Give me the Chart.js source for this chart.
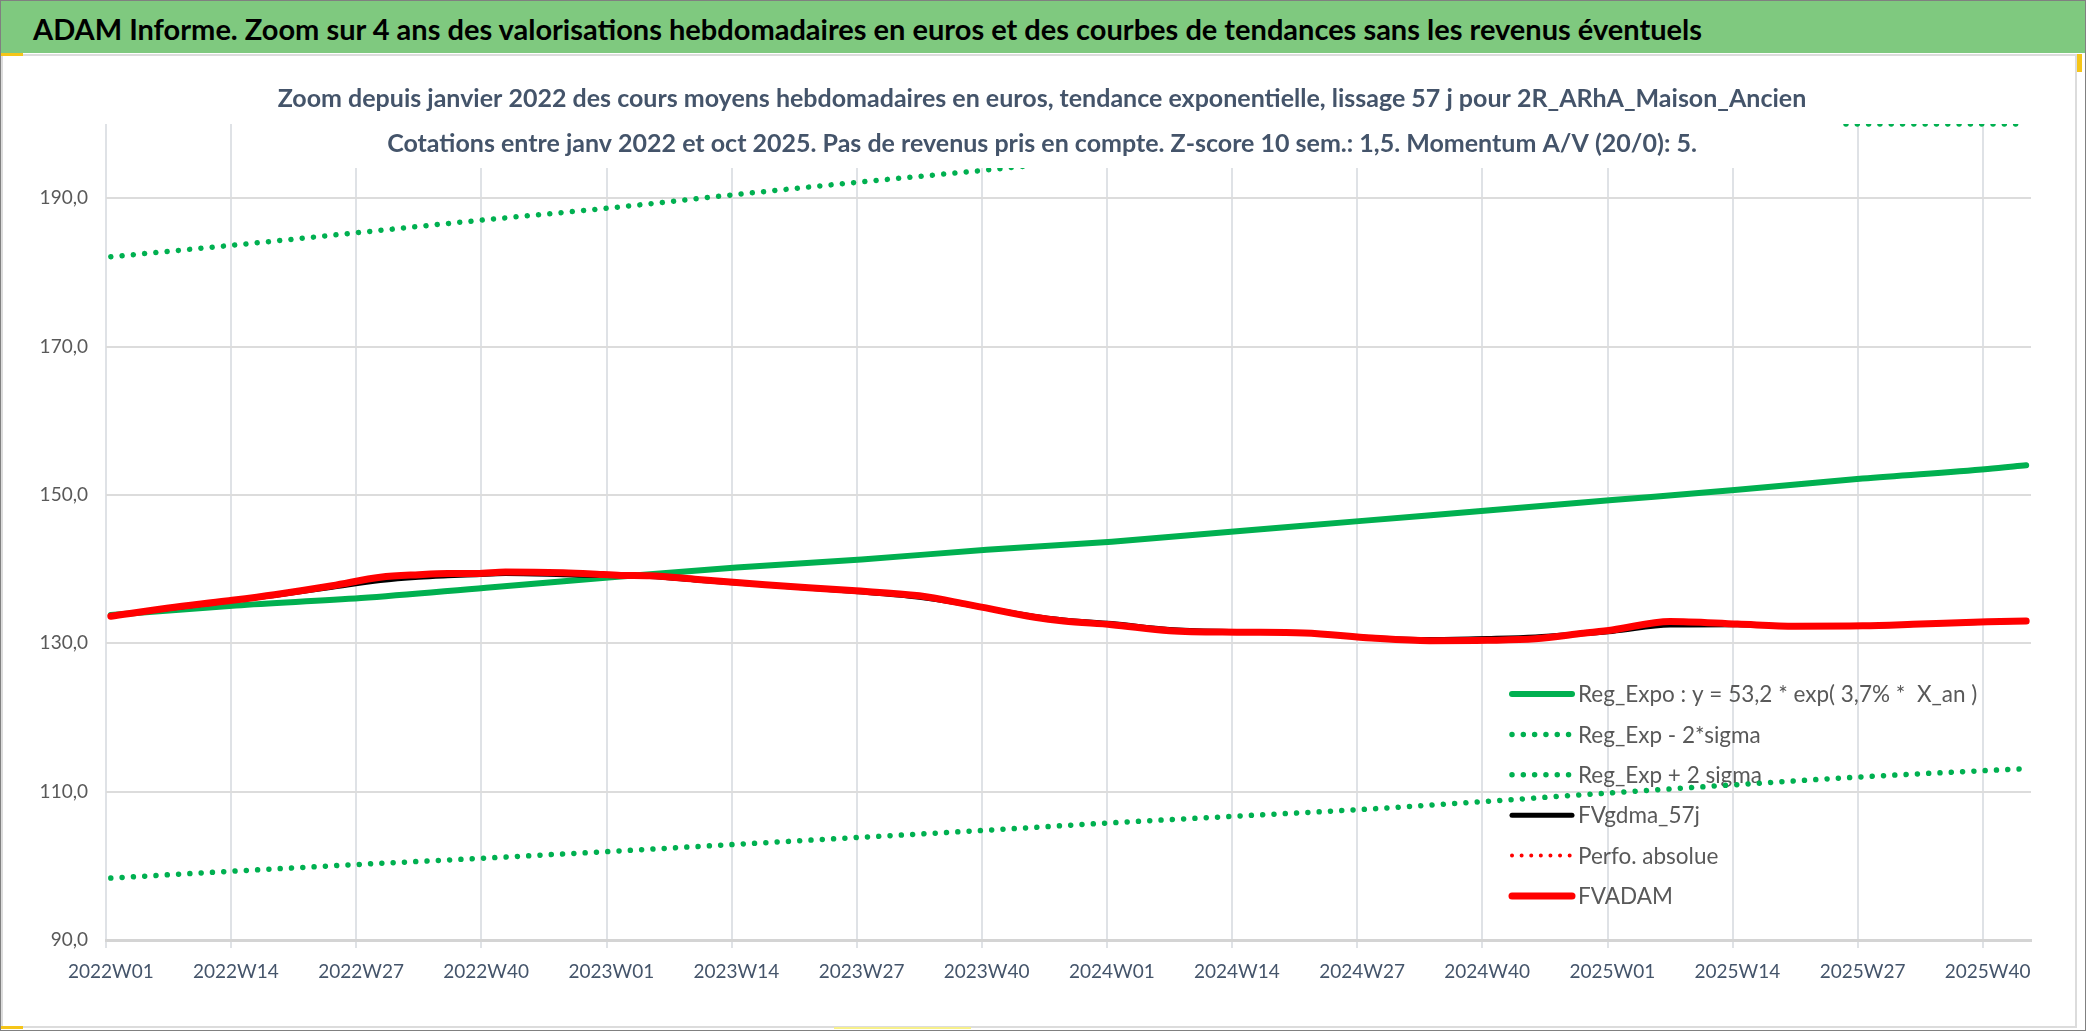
<!DOCTYPE html>
<html>
<head>
<meta charset="utf-8">
<title>ADAM Informe</title>
<script src="https://cdn.jsdelivr.net/npm/chart.js"></script>
<style>
  body { margin: 0; background: #fff; }
  #page { position: relative; width: 2086px; height: 1031px; box-sizing: border-box; border: 1px solid #808080; overflow: hidden;
          font-family: Lato, "Open Sans", sans-serif; }
  #header { position: absolute; left: 0; top: 0; width: 100%; height: 52px; background: #7fc97f; }
  #header span { position: absolute; left: 32px; top: 2px; line-height: 52px; font-size: 29px; font-weight: bold; color: #000; white-space: nowrap; }
  #frame { position: absolute; left: 0; top: 53px; width: 2076px; height: 974px; box-sizing: border-box; border: 2px solid #dcdcdc; }
  #chartBox { position: absolute; left: 0; top: 56px; width: 2074px; height: 969px; }
  .handle { position: absolute; background: #f5c518; }
</style>
</head>
<body>
<div id="page">
  <div id="header"><span>ADAM Informe. Zoom sur 4 ans des valorisations hebdomadaires en euros et des courbes de tendances sans les revenus éventuels</span></div>
  <div id="frame"></div>
  <div id="chartBox"><canvas id="myChart" width="2074" height="969"></canvas></div>
  <div class="handle" style="left:0;top:52px;width:22px;height:3px"></div>
  <div class="handle" style="left:2076px;top:53px;width:5px;height:18px"></div>
  <div class="handle" style="left:0;top:1025px;width:22px;height:3px"></div>
  <div class="handle" style="left:833px;top:1026px;width:137px;height:2px;background:#f7f08a"></div>
</div>

<script>
    // x axis: week index 0 = 2022W01 ... 199 = 2025W44, a label every 13 weeks
    const tickWeeks = [0, 13, 26, 39, 52, 65, 78, 91, 104, 117, 130, 143, 156, 169, 182, 195];
    const tickLabels = ['2022W01', '2022W14', '2022W27', '2022W40', '2023W01', '2023W14', '2023W27', '2023W40',
                        '2024W01', '2024W14', '2024W27', '2024W40', '2025W01', '2025W14', '2025W27', '2025W40'];
    const lastWeek = 199;

    // y axis
    const yTicks = [90, 110, 130, 150, 170, 190];
    const yMin = 90, yMax = 200;

    // trend curves, read every 13 weeks
    const trendWeeks = [0, 13, 26, 39, 52, 65, 78, 91, 104, 117, 130, 143, 156, 169, 182, 195, 199];
    const regExpo = [133.8, 135.1, 136.1, 137.5, 138.9, 140.2, 141.3, 142.6, 143.7, 145.1, 146.5, 147.9, 149.3, 150.7, 152.2, 153.5, 154.0];
    const regLow  = [98.35, 99.3, 100.2, 101.05, 101.95, 102.9, 103.85, 104.8, 105.8, 106.7, 107.6, 108.7, 109.85, 110.95, 112.0, 112.85, 113.1];
    const regHigh = [182.1, 183.7, 185.4, 187.1, 188.7, 190.5, 192.2, 193.8, 195.5, 197.3, 199.1, 200, 200, 200, 200, 200, 200];

    // valuations, read more densely
    const fvWeeks = [0, 6, 12, 17, 23, 28, 32, 35, 38, 41, 47, 50, 53, 56, 61, 68, 77, 84, 89, 96,
                     99, 104, 110, 117, 124, 131, 137, 143, 148, 153, 156, 162, 169, 175, 182, 188, 195, 199];
    const fvAdam = [133.65, 134.75, 135.7, 136.55, 137.75, 138.9, 139.25, 139.4, 139.4, 139.6,
                    139.5, 139.35, 139.15, 139.1, 138.6, 137.9, 137.1, 136.4, 135.25, 133.5,
                    133.0, 132.5, 131.7, 131.5, 131.4, 130.7, 130.35, 130.4, 130.6, 131.35,
                    131.8, 132.95, 132.6, 132.3, 132.35, 132.6, 132.9, 133.0];
    const fvGdma = [133.65, 134.7, 135.65, 136.45, 137.55, 138.45, 138.9, 139.1, 139.25, 139.4,
                    139.25, 139.15, 139.1, 139.0, 138.5, 137.85, 137.0, 136.2, 135.2, 133.6,
                    133.15, 132.65, 131.85, 131.55, 131.35, 130.75, 130.5, 130.65, 130.85, 131.3,
                    131.6, 132.45, 132.5, 132.35, 132.35, 132.55, 132.85, 132.95];
    const perfoAbsolue = [];

    const titleLines = [
        'Zoom depuis janvier 2022 des cours moyens hebdomadaires en euros, tendance exponentielle, lissage 57 j pour 2R_ARhA_Maison_Ancien',
        'Cotations entre janv 2022 et oct 2025. Pas de revenus pris en compte. Z-score 10 sem.: 1,5. Momentum A/V (20/0): 5.'
    ];

    const FONT = 'Lato, "Open Sans", sans-serif';

    function pts(weeks, values) {
        return weeks.map((w, i) => ({ x: w, y: values[i] }));
    }

    // legend drawn under the lines, title box drawn over them
    const overlay = {
        id: 'overlay',
        beforeDatasetsDraw(chart) {
            const ctx = chart.ctx;
            const area = chart.chartArea;
            const x1 = area.right - 519, x2 = area.right - 459;
            ctx.save();
            ctx.font = '22.5px ' + FONT;
            ctx.textBaseline = 'middle';
            chart.data.datasets.forEach((ds, i) => {
                const y = area.top + 570 + i * 40.4;
                ctx.beginPath();
                ctx.strokeStyle = ds.borderColor;
                ctx.lineWidth = ds.borderWidth;
                ctx.lineCap = 'round';
                ctx.setLineDash(ds.borderDash || []);
                ctx.moveTo(x1, y);
                ctx.lineTo(x2, y);
                ctx.stroke();
                ctx.setLineDash([]);
                ctx.fillStyle = '#595959';
                ctx.fillText(ds.label, x2 + 6, y + 1);
            });
            ctx.restore();
        },
        afterDatasetsDraw(chart) {
            const ctx = chart.ctx;
            const top = chart.chartArea.top;
            ctx.save();
            ctx.fillStyle = '#ffffff';
            ctx.fillRect(241, top - 60, 1600, 104);
            ctx.fillStyle = '#44546a';
            ctx.font = 'bold 25px ' + FONT;
            ctx.textAlign = 'center';
            ctx.textBaseline = 'middle';
            ctx.fillText(titleLines[0], 1041, 42);
            ctx.fillText(titleLines[1], 1041, 87);
            ctx.restore();
        }
    };

    const dotted = (color, width, gap) => ({
        borderColor: color, borderWidth: width, borderDash: [0.01, gap], borderCapStyle: 'round'
    });

    new Chart(document.getElementById('myChart').getContext('2d'), {
        type: 'line',
        data: {
            datasets: [
                { label: 'Reg_Expo : y = 53,2 * exp( 3,7% *  X_an )', data: pts(trendWeeks, regExpo),
                  borderColor: '#00b050', borderWidth: 6, borderCapStyle: 'round', order: 2 },
                { label: 'Reg_Exp - 2*sigma', data: pts(trendWeeks, regLow), ...dotted('#00b050', 5.5, 11.3), order: 3 },
                { label: 'Reg_Exp + 2 sigma', data: pts(trendWeeks, regHigh), ...dotted('#00b050', 5.5, 11.3), order: 3 },
                { label: 'FVgdma_57j', data: pts(fvWeeks, fvGdma),
                  borderColor: '#000000', borderWidth: 5, borderCapStyle: 'round', order: 1 },
                { label: 'Perfo. absolue', data: perfoAbsolue, ...dotted('#ff0000', 4, 9.6), order: 1 },
                { label: 'FVADAM', data: pts(fvWeeks, fvAdam),
                  borderColor: '#ff0000', borderWidth: 7, borderCapStyle: 'round', order: 0 }
            ]
        },
        options: {
            responsive: false,
            animation: false,
            devicePixelRatio: 1,
            layout: { padding: { top: 67, right: 44, left: 0, bottom: 0 } },
            elements: {
                point: { radius: 0 },
                line: { cubicInterpolationMode: 'monotone', borderJoinStyle: 'round' }
            },
            plugins: {
                legend: { display: false },
                title: { display: false },
                tooltip: { enabled: false }
            },
            scales: {
                x: {
                    type: 'linear',
                    min: -0.5,
                    max: lastWeek + 0.5,
                    grid: { color: '#dfe2e6', lineWidth: 2, tickLength: 8 },
                    border: { color: '#d4d4d4', width: 3 },
                    ticks: {
                        maxRotation: 0,
                        minRotation: 0,
                        padding: 12,
                        labelOffset: 4.8,
                        color: '#44546a',
                        font: { family: FONT, size: 19 },
                        callback: (v, idx) => tickLabels[idx]
                    },
                    // grid lines sit on the category edges, half a week before each labelled week
                    afterBuildTicks: scale => { scale.ticks = tickWeeks.map(w => ({ value: w - 0.5 })); },
                    afterFit: scale => { scale.height = 86; }
                },
                y: {
                    min: yMin,
                    max: yMax,
                    grid: { color: '#dcdcdc', lineWidth: 2, drawTicks: false },
                    border: { display: false },
                    ticks: {
                        padding: 18,
                        color: '#595959',
                        font: { family: FONT, size: 19 },
                        callback: v => v.toFixed(1).replace('.', ',')
                    },
                    afterBuildTicks: scale => { scale.ticks = yTicks.map(v => ({ value: v })); },
                    afterFit: scale => { scale.width = 105; }
                }
            }
        },
        plugins: [overlay]
    });
</script>
</body>
</html>
